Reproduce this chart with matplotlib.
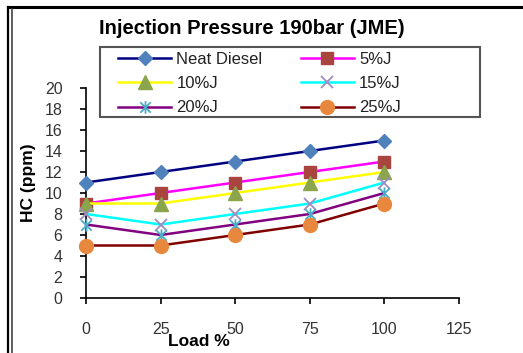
import numpy as np
import matplotlib.pyplot as plt
from matplotlib.path import Path
from matplotlib.lines import Line2D
from matplotlib.patches import Rectangle

plt.rcParams['font.family'] = ['Liberation Sans', 'DejaVu Sans']

### data
load = [0, 25, 50, 75, 100]
neat_diesel = [11, 12, 13, 14, 15]
jme_5 = [9, 10, 11, 12, 13]
jme_10 = [9, 9, 10, 11, 12]
jme_15 = [8, 7, 8, 9, 11]
jme_20 = [7, 6, 7, 8, 10]
jme_25 = [5, 5, 6, 7, 9]
labels = ["Neat Diesel", "5%J", "10%J", "15%J", "20%J", "25%J"]

# excel style asterisk: x with a vertical bar
asterisk = Path([(-1, -1), (1, 1), (-1, 1), (1, -1), (0, -1.2), (0, 1.2)],
                [Path.MOVETO, Path.LINETO, Path.MOVETO, Path.LINETO, Path.MOVETO, Path.LINETO])

styles = [
    dict(color="#000080", marker="D", ms=7, mfc="#4F81BD", mec="#4F81BD"),
    dict(color="#FF00FF", marker="s", ms=9, mfc="#A9443F", mec="#A9443F"),
    dict(color="#FFFF00", marker="^", ms=10, mfc="#8AA54B", mec="#8AA54B"),
    dict(color="#00FFFF", marker="x", ms=9, mfc="#A08CC0", mec="#A08CC0", mew=1.3),
    dict(color="#800080", marker=asterisk, ms=9, mfc="none", mec="#4BACC6", mew=1.3),
    dict(color="#800000", marker="o", ms=10, mfc="#E8883E", mec="#E8883E"),
]
series = [neat_diesel, jme_5, jme_10, jme_15, jme_20, jme_25]

fig = plt.figure(figsize=(5.23, 3.53), dpi=100)
ax = fig.add_axes([86 / 523, 55 / 353, 373 / 523, 210 / 353])

handles = []
for vals, lab, st in zip(series, labels, styles):
    h, = ax.plot(load, vals, lw=1.8, label=lab, clip_on=False, zorder=3, **st)
    handles.append(h)

ax.set_xlim(0, 125)
ax.set_ylim(0, 20)
ax.set_xticks(np.arange(0, 126, 25))
ax.set_yticks(np.arange(0, 21, 2))
for s in ["top", "right"]:
    ax.spines[s].set_visible(False)
for s in ["left", "bottom"]:
    ax.spines[s].set_linewidth(1.2)
ax.tick_params(axis="x", length=4, width=1.2, pad=13, labelsize=11.5)
ax.tick_params(axis="y", length=4, width=1.2, pad=13, labelsize=11.5)
for t in ax.get_xticklabels() + ax.get_yticklabels():
    t.set_color("#333333")

fig.text(252 / 523, 1 - 28 / 353, "Injection Pressure 190bar (JME)", ha="center", va="center",
         fontsize=14.5, fontweight="bold")
fig.text(199 / 523, 1 - 341 / 353, "Load %", ha="center", va="center", fontsize=12.5, fontweight="bold")
fig.text(28 / 523, 1 - 183 / 353, "HC (ppm)", ha="center", va="center", rotation=90,
         fontsize=12.5, fontweight="bold")

# legend box, then entries filled row by row inside it
fig.add_artist(Rectangle((100 / 523, 1 - 117 / 353), 380 / 523, 70 / 353, fill=False,
                         edgecolor="#555555", lw=1.5, transform=fig.transFigure))
order = [0, 2, 4, 1, 3, 5]
leg = fig.legend([handles[i] for i in order], [labels[i] for i in order], ncol=2,
                 loc="upper left", bbox_to_anchor=(118 / 523, 1 - 52 / 353),
                 frameon=False, fontsize=12, handlelength=3.2, borderpad=0, borderaxespad=0,
                 columnspacing=2.3, labelspacing=0.55, handletextpad=0.3)
for t in leg.get_texts():
    t.set_color("#222222")

# outer frame: thick top line, double line on the left
fig.add_artist(Line2D([8 / 523, 1], [1 - 7 / 353] * 2, color="black", lw=2.2))
fig.add_artist(Line2D([8 / 523] * 2, [0, 1 - 7 / 353], color="black", lw=1.6))
fig.add_artist(Line2D([12 / 523] * 2, [0, 1 - 9 / 353], color="#444444", lw=1.2))

fig.savefig("out.png", dpi=100)
